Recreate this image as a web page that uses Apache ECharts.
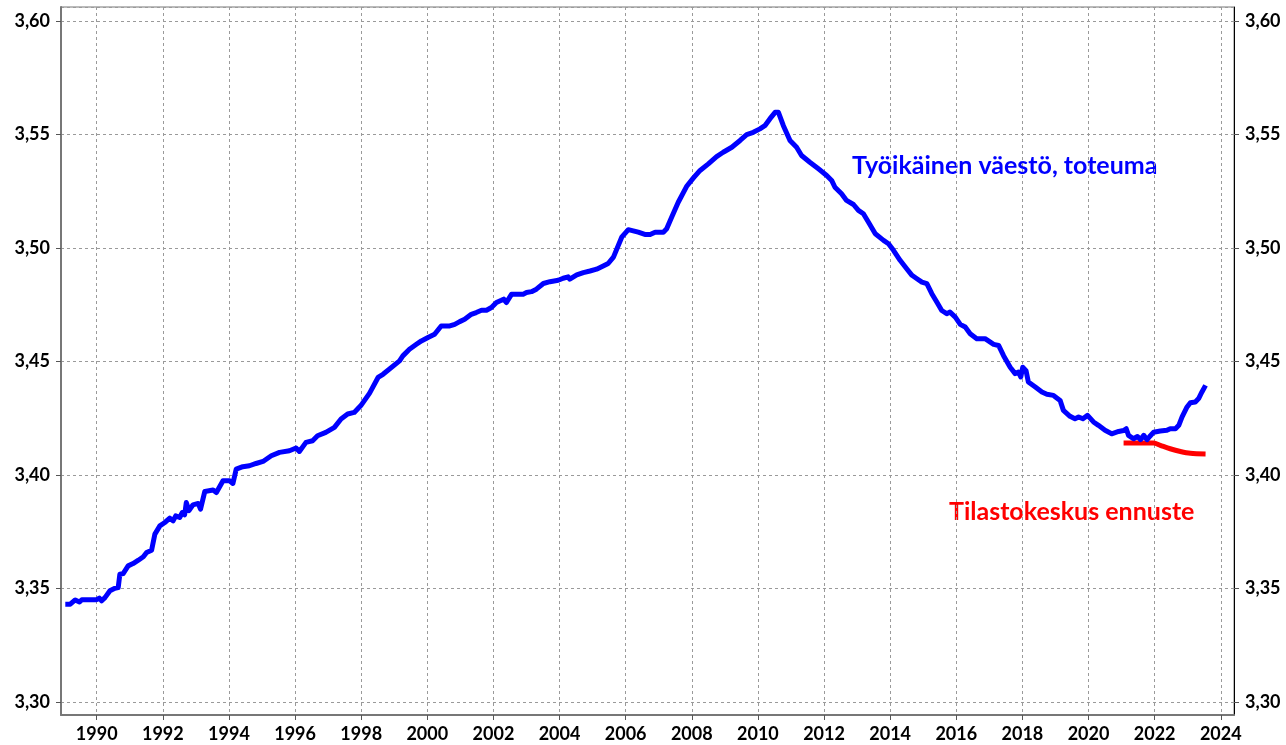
<!DOCTYPE html>
<html>
<head>
<meta charset="utf-8">
<script src="https://cdn.jsdelivr.net/npm/echarts@6/dist/echarts.min.js"></script>
<style>
    html, body { margin: 0; padding: 0; background: #fff; }
    #main { width: 1286px; height: 745px; }
</style>
</head>
<body>
<div id="main"></div>
<script>
    // työikäinen väestö (milj.), kuukausitason lukemat kuvasta
    var actualYears = [
        1989.05, 1989.20, 1989.35, 1989.48, 1989.55, 1990.00, 1990.08, 1990.15, 1990.25, 1990.40,
        1990.55, 1990.65, 1990.70, 1990.80, 1990.95, 1991.10, 1991.26, 1991.41, 1991.51, 1991.66,
        1991.76, 1991.91, 1992.06, 1992.21, 1992.31, 1992.39, 1992.51, 1992.59, 1992.66, 1992.71,
        1992.79, 1992.91, 1993.07, 1993.14, 1993.27, 1993.52, 1993.62, 1993.82, 1994.02, 1994.12,
        1994.22, 1994.42, 1994.62, 1994.82, 1995.03, 1995.28, 1995.53, 1995.83, 1996.03, 1996.13,
        1996.33, 1996.53, 1996.68, 1996.93, 1997.19, 1997.39, 1997.59, 1997.79, 1997.99, 1998.25,
        1998.51, 1998.66, 1999.16, 1999.26, 1999.46, 1999.67, 1999.82, 2000.02, 2000.22, 2000.42,
        2000.68, 2000.83, 2000.98, 2001.13, 2001.33, 2001.48, 2001.64, 2001.79, 2001.94, 2002.09,
        2002.24, 2002.31, 2002.39, 2002.55, 2002.90, 2003.00, 2003.15, 2003.30, 2003.51, 2003.71,
        2003.96, 2004.11, 2004.26, 2004.31, 2004.52, 2004.72, 2004.92, 2005.12, 2005.32, 2005.47,
        2005.63, 2005.88, 2006.08, 2006.23, 2006.38, 2006.58, 2006.74, 2006.89, 2007.14, 2007.24,
        2007.39, 2007.59, 2007.84, 2008.05, 2008.25, 2008.50, 2008.75, 2008.95, 2009.21, 2009.46,
        2009.66, 2009.86, 2010.06, 2010.21, 2010.36, 2010.52, 2010.62, 2010.77, 2010.97, 2011.17,
        2011.32, 2011.57, 2011.83, 2012.08, 2012.23, 2012.33, 2012.53, 2012.68, 2012.89, 2013.04,
        2013.19, 2013.34, 2013.55, 2013.80, 2013.95, 2014.10, 2014.30, 2014.50, 2014.66, 2014.81,
        2014.96, 2015.11, 2015.26, 2015.41, 2015.56, 2015.71, 2015.81, 2015.97, 2016.12, 2016.27,
        2016.42, 2016.62, 2016.87, 2017.13, 2017.28, 2017.43, 2017.63, 2017.78, 2017.88, 2017.95,
        2018.01, 2018.11, 2018.18, 2018.39, 2018.59, 2018.74, 2018.94, 2019.14, 2019.24, 2019.44,
        2019.59, 2019.70, 2019.83, 2019.97, 2020.15, 2020.30, 2020.50, 2020.70, 2020.91, 2021.06,
        2021.14, 2021.21, 2021.36, 2021.48, 2021.57, 2021.67, 2021.77, 2021.85, 2021.97, 2022.17,
        2022.37, 2022.47, 2022.63, 2022.73, 2022.83, 2022.98, 2023.08, 2023.23, 2023.33, 2023.43,
        2023.54
    ];
    var actualValues = [
        3.3431, 3.3431, 3.3450, 3.3441, 3.3451, 3.3451, 3.3458, 3.3446, 3.3460, 3.3490,
        3.3501, 3.3504, 3.3563, 3.3566, 3.3600, 3.3610, 3.3625, 3.3640, 3.3659, 3.3669,
        3.3740, 3.3776, 3.3791, 3.3810, 3.3798, 3.3820, 3.3813, 3.3835, 3.3825, 3.3879,
        3.3843, 3.3869, 3.3875, 3.3850, 3.3928, 3.3934, 3.3923, 3.3975, 3.3975, 3.3963,
        3.4026, 3.4037, 3.4041, 3.4051, 3.4060, 3.4085, 3.4100, 3.4107, 3.4119, 3.4104,
        3.4144, 3.4151, 3.4173, 3.4188, 3.4210, 3.4247, 3.4269, 3.4276, 3.4306, 3.4360,
        3.4430, 3.4444, 3.4503, 3.4525, 3.4554, 3.4576, 3.4591, 3.4606, 3.4620, 3.4657,
        3.4657, 3.4664, 3.4676, 3.4686, 3.4708, 3.4716, 3.4726, 3.4726, 3.4738, 3.4760,
        3.4770, 3.4775, 3.4760, 3.4797, 3.4797, 3.4804, 3.4808, 3.4819, 3.4844, 3.4852,
        3.4858, 3.4867, 3.4873, 3.4863, 3.4882, 3.4892, 3.4899, 3.4907, 3.4921, 3.4932,
        3.4960, 3.5048, 3.5081, 3.5076, 3.5070, 3.5060, 3.5060, 3.5070, 3.5070, 3.5085,
        3.5136, 3.5202, 3.5271, 3.5309, 3.5342, 3.5371, 3.5403, 3.5422, 3.5444, 3.5474,
        3.5500, 3.5510, 3.5525, 3.5539, 3.5569, 3.5598, 3.5598, 3.5539, 3.5474, 3.5444,
        3.5408, 3.5378, 3.5349, 3.5320, 3.5298, 3.5268, 3.5239, 3.5210, 3.5192, 3.5166,
        3.5151, 3.5115, 3.5063, 3.5034, 3.5019, 3.4990, 3.4946, 3.4909, 3.4880, 3.4865,
        3.4850, 3.4843, 3.4799, 3.4762, 3.4725, 3.4711, 3.4718, 3.4696, 3.4664, 3.4652,
        3.4623, 3.4601, 3.4601, 3.4576, 3.4571, 3.4526, 3.4475, 3.4447, 3.4454, 3.4432,
        3.4475, 3.4460, 3.4410, 3.4388, 3.4366, 3.4356, 3.4351, 3.4329, 3.4285, 3.4259,
        3.4248, 3.4256, 3.4248, 3.4263, 3.4234, 3.4219, 3.4197, 3.4182, 3.4192, 3.4196,
        3.4204, 3.4175, 3.4160, 3.4170, 3.4156, 3.4175, 3.4156, 3.4170, 3.4189, 3.4194,
        3.4197, 3.4204, 3.4204, 3.4219, 3.4256, 3.4300, 3.4319, 3.4322, 3.4337, 3.4366,
        3.4395
    ];
    // Tilastokeskuksen ennuste
    var forecastYears = [2021.06, 2021.97, 2022.17, 2022.47, 2022.78, 2023.08, 2023.54];
    var forecastValues = [3.4141, 3.4141, 3.4131, 3.4116, 3.4104, 3.4096, 3.4093];

    var actualLabel = 'Työikäinen väestö, toteuma';
    var forecastLabel = 'Tilastokeskus ennuste';

    function pairs(xs, ys) {
        var out = [];
        for (var i = 0; i < xs.length; i++) out.push([xs[i], ys[i]]);
        return out;
    }

    function yLabel(v) {
        // vain tasaluvut 0,05 välein
        if (Math.abs(v * 20 - Math.round(v * 20)) > 1e-6) return '';
        return v.toFixed(2).replace('.', ',');
    }
    function xLabel(v) {
        if (Math.abs(v - Math.round(v)) > 1e-6) return '';
        return String(Math.round(v));
    }

    var labelFont = { fontFamily: 'Lato', fontWeight: 'bold', fontSize: 18, color: '#000' };
    var dashed = { color: '#9a9a9a', type: [3, 3], width: 1 };

    var myChart = echarts.init(document.getElementById('main'));
    var yCommon = {
        type: 'value',
        min: 3.2943,
        max: 3.6062,
        splitNumber: 6,
        axisTick: { show: true, length: 5, lineStyle: { color: '#555' } },
        axisLabel: Object.assign({ margin: 11, formatter: yLabel, showMinLabel: false, showMaxLabel: false }, labelFont)
    };
    var option = {
        animation: false,
        backgroundColor: '#fff',
        grid: {
            left: 61, right: 52, top: 7, bottom: 30,
            show: true, borderColor: '#777', borderWidth: 1
        },
        xAxis: {
            type: 'value',
            min: 1988.92,
            max: 2024.40,
            splitNumber: 17,
            axisLine: { lineStyle: { color: '#777', width: 2 } },
            axisTick: { show: true, length: 5, lineStyle: { color: '#555' } },
            splitLine: { show: true, lineStyle: dashed },
            axisLabel: Object.assign({ margin: 10, formatter: xLabel, showMinLabel: false, showMaxLabel: false }, labelFont)
        },
        yAxis: [
            Object.assign({}, yCommon, {
                position: 'left',
                axisLine: { show: true, lineStyle: { color: '#777', width: 2 } },
                splitLine: { show: true, lineStyle: dashed }
            }),
            Object.assign({}, yCommon, {
                position: 'right',
                axisLine: { show: true, lineStyle: { color: '#000', width: 1 } },
                splitLine: { show: false }
            })
        ],
        series: [
            {
                name: forecastLabel,
                type: 'line',
                data: pairs(forecastYears, forecastValues),
                showSymbol: false,
                smooth: 0.3,
                lineStyle: { color: '#ff0000', width: 5 },
                z: 2
            },
            {
                name: actualLabel,
                type: 'line',
                data: pairs(actualYears, actualValues),
                showSymbol: false,
                lineStyle: { color: '#0000ff', width: 5, join: 'round' },
                z: 3
            }
        ],
        graphic: [
            {
                type: 'text', left: 852, top: 153,
                style: { text: actualLabel, fill: '#0000ff', font: 'bold 25px Lato' }
            },
            {
                type: 'text', left: 949, top: 499,
                style: { text: forecastLabel, fill: '#ff0000', font: 'bold 25px Lato' }
            }
        ]
    };
    myChart.setOption(option);
</script>
</body>
</html>
